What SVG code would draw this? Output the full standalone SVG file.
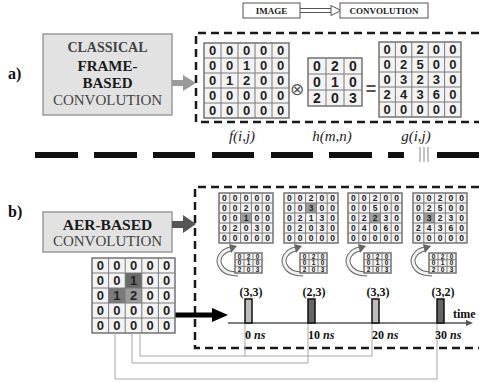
<svg xmlns="http://www.w3.org/2000/svg" width="479" height="383" viewBox="0 0 479 383">
<defs>
<style>
.bg{fill:#fff}
.lbl{font-weight:bold;font-size:16px;fill:#111}
.box{fill:#e2e2e2;stroke:#9a9a9a;stroke-width:1.5}
.dash{fill:none;stroke:#1a1a1a;stroke-width:2.5;stroke-dasharray:8 5}
.mat{fill:#f3f3f3;stroke:#6a6a6a;stroke-width:1.4}
.grid{fill:none;stroke:#7a7a7a;stroke-width:1}
.num{font-family:"Liberation Sans",Arial,sans-serif;font-weight:bold;fill:#222;text-anchor:middle}
.n13{font-size:13px}
.n14{font-size:14px}
.n9{font-size:8.5px}
.n6{font-size:6.5px}
.fn{font-style:italic;font-size:15px;fill:#222;text-anchor:middle}
.conn{fill:none;stroke:#a8a8a8;stroke-width:1}
.ev{font-weight:bold;font-size:12px;fill:#111;text-anchor:middle}
.tm{font-weight:bold;font-size:12px;fill:#111}
.hl{fill:#9c9c9c}
.ring{fill:none;stroke:#666;stroke-width:5}
.ringin{fill:none;stroke:#f0f0f0;stroke-width:3}
.pulse{stroke:#111;stroke-width:1.5}
</style>
</defs>
<rect class="bg" x="0" y="0" width="479" height="383"/>

<g font-family="Liberation Serif, Times New Roman, DejaVu Serif, serif">
<!-- legend -->
<g id="legend">
<rect x="243" y="3" width="57" height="15" fill="#fff" stroke="#555" stroke-width="1"/>
<text x="271.5" y="14" font-size="9" font-weight="bold" text-anchor="middle" fill="#222">IMAGE</text>
<path d="M300,8.5H332 M300,12.5H332" stroke="#555" stroke-width="1" fill="none"/>
<path d="M331,5.5L341,10.5L331,15.5Z" fill="#fff" stroke="#555" stroke-width="1"/>
<rect x="340" y="3" width="88" height="15" fill="#fff" stroke="#555" stroke-width="1"/>
<text x="384" y="14" font-size="9" font-weight="bold" text-anchor="middle" fill="#222">CONVOLUTION</text>
</g>

<!-- section a -->
<text x="8" y="79" class="lbl">a)</text>
<g id="classical">
<rect class="box" x="43" y="34" width="129" height="81"/>
<text x="107.5" y="52" font-size="14" font-weight="bold" fill="#444" text-anchor="middle">CLASSICAL</text>
<text x="107.5" y="71" font-size="15" font-weight="bold" fill="#1a1a1a" text-anchor="middle">FRAME-</text>
<text x="107.5" y="88" font-size="15" font-weight="bold" fill="#1a1a1a" text-anchor="middle">BASED</text>
<text x="107.5" y="105" font-size="15" fill="#444" text-anchor="middle">CONVOLUTION</text>
</g>
<g id="frameBox">
<path class="dash" d="M479,33H196V122H479"/>
</g>

<g id="matF">
<rect class="mat" x="204" y="43" width="85" height="75"/>
<path class="grid" d="M221,43V118M238,43V118M255,43V118M272,43V118M204,58H289M204,73H289M204,88H289M204,103H289"/>
<g class="num n13">
<text x="212.5 229.5 246.5 263.5 280.5" y="55.2">00000</text>
<text x="212.5 229.5 246.5 263.5 280.5" y="70.2">00100</text>
<text x="212.5 229.5 246.5 263.5 280.5" y="85.2">01200</text>
<text x="212.5 229.5 246.5 263.5 280.5" y="100.2">00000</text>
<text x="212.5 229.5 246.5 263.5 280.5" y="115.2">00000</text>
</g>
<text class="fn" x="242" y="141">f(i,j)</text>
</g>

<text x="297" y="95" font-family="DejaVu Sans,sans-serif" font-size="17" fill="#555" text-anchor="middle">⊗</text>

<g id="matH">
<rect class="mat" x="308" y="58" width="54" height="48"/>
<path class="grid" d="M326,58V106M344,58V106M308,74H362M308,90H362"/>
<g class="num n14">
<text x="317 335 353" y="71">020</text>
<text x="317 335 353" y="87">010</text>
<text x="317 335 353" y="103">203</text>
</g>
<text class="fn" x="332" y="141">h(m,n)</text>
</g>

<text x="371" y="95" font-family="Liberation Sans,sans-serif" font-weight="bold" font-size="18" fill="#555" text-anchor="middle">=</text>

<g id="matG">
<rect class="mat" x="379" y="42" width="82" height="75"/>
<path class="grid" d="M395.4,42V117M411.8,42V117M428.2,42V117M444.6,42V117M379,57H461M379,72H461M379,87H461M379,102H461"/>
<g class="num n13">
<text x="387.2 403.6 420 436.4 452.8" y="54.2">00200</text>
<text x="387.2 403.6 420 436.4 452.8" y="69.2">02500</text>
<text x="387.2 403.6 420 436.4 452.8" y="84.2">03230</text>
<text x="387.2 403.6 420 436.4 452.8" y="99.2">24360</text>
<text x="387.2 403.6 420 436.4 452.8" y="114.2">00000</text>
</g>
<text class="fn" x="416" y="141">g(i,j)</text>
</g>

<!-- separator -->
<g id="separator">
<path d="M35,155H78M94,155H137M153,155H195M212,155H254M271,155H313M329,155H372M388,155H404M437,155H479" stroke="#111" stroke-width="6" fill="none"/>
<path d="M420,147V162M424,147V162M428,147V162" stroke="#888" stroke-width="1" fill="none"/>
</g>

<!-- section b -->
<text x="8" y="217" class="lbl">b)</text>
<g id="aer">
<rect class="box" x="43" y="212" width="129" height="40"/>
<text x="107.5" y="230" font-size="15.5" font-weight="bold" fill="#1a1a1a" text-anchor="middle">AER-BASED</text>
<text x="107.5" y="246" font-size="15" fill="#444" text-anchor="middle">CONVOLUTION</text>
</g>
<g id="aerBox">
<path class="dash" d="M479,187H195V348H479"/>
</g>

<!-- arrows -->
<g id="arrows">
<path d="M172,80H183V75L196,83L183,91V86H172Z" fill="#9a9a9a"/>
<path d="M172,221H183V215L196,224L183,233V228H172Z" fill="#555"/>
<path d="M175,312.5H212V308L228,315L212,322V317.5H175Z" fill="#000"/>
</g>

<g id="matIn">
<rect class="mat" x="92" y="258" width="83" height="75"/>
<rect x="125.2" y="273" width="16.6" height="15" fill="#6a6a6a"/>
<rect x="108.6" y="288" width="16.6" height="15" fill="#7a7a7a"/>
<rect x="125.2" y="288" width="16.6" height="15" fill="#9a9a9a"/>
<path class="grid" d="M108.6,258V333M125.2,258V333M141.8,258V333M158.4,258V333M92,273H175M92,288H175M92,303H175M92,318H175"/>
<g class="num n13">
<text x="100.3 116.9 133.5 150.1 166.7" y="270.2">00000</text>
<text x="100.3 116.9 133.5 150.1 166.7" y="285.2">00100</text>
<text x="100.3 116.9 133.5 150.1 166.7" y="300.2">01200</text>
<text x="100.3 116.9 133.5 150.1 166.7" y="315.2">00000</text>
<text x="100.3 116.9 133.5 150.1 166.7" y="330.2">00000</text>
</g>
</g>

<!-- connectors -->
<g id="connectors">
<path class="conn" d="M140,333V356H372V323M245,323V356"/>
<path class="conn" d="M132,333V363H308V323"/>
<path class="conn" d="M115,333V379H437V323"/>
<path d="M228,323H468" stroke="#555" stroke-width="1.5" fill="none"/>
<path d="M466,320L473,323L466,326Z" fill="#555"/>
</g>

<!-- snapshots -->
<g id="snap1" transform="translate(219,193)">
<rect class="mat" x="0" y="0" width="54" height="50"/>
<rect class="hl" x="21.6" y="20" width="10.8" height="10"/>
<path class="grid" d="M10.8,0V50M21.6,0V50M32.4,0V50M43.2,0V50M0,10H54M0,20H54M0,30H54M0,40H54"/>
<g class="num n9">
<text x="5.4 16.2 27 37.8 48.6" y="8.2">00000</text>
<text x="5.4 16.2 27 37.8 48.6" y="18.2">00200</text>
<text x="5.4 16.2 27 37.8 48.6" y="28.2">00100</text>
<text x="5.4 16.2 27 37.8 48.6" y="38.2">02030</text>
<text x="5.4 16.2 27 37.8 48.6" y="48.2">00000</text>
</g>
<path class="ring" d="M12,56 C2,58 -2,66 1,72 C4,79 12,81 19,81"/>
<path class="ringin" d="M12,56 C2,58 -2,66 1,72 C4,79 12,81 19,81"/>
<path d="M10,51L18,53L12,60Z" fill="#666"/>
<g transform="translate(16,60)">
<rect class="mat" x="0" y="0" width="27" height="20" stroke-width="1"/>
<path class="grid" d="M9,0V20M18,0V20M0,6.67H27M0,13.33H27" stroke-width="0.7"/>
<g class="num n6">
<text x="4.5 13.5 22.5" y="5.7">020</text>
<text x="4.5 13.5 22.5" y="12.4">010</text>
<text x="4.5 13.5 22.5" y="19">203</text>
</g>
</g>
</g>

<g id="snap2" transform="translate(284,193)">
<rect class="mat" x="0" y="0" width="54" height="50"/>
<rect class="hl" x="21.6" y="10" width="10.8" height="10"/>
<path class="grid" d="M10.8,0V50M21.6,0V50M32.4,0V50M43.2,0V50M0,10H54M0,20H54M0,30H54M0,40H54"/>
<g class="num n9">
<text x="5.4 16.2 27 37.8 48.6" y="8.2">00200</text>
<text x="5.4 16.2 27 37.8 48.6" y="18.2">00300</text>
<text x="5.4 16.2 27 37.8 48.6" y="28.2">02130</text>
<text x="5.4 16.2 27 37.8 48.6" y="38.2">02030</text>
<text x="5.4 16.2 27 37.8 48.6" y="48.2">00000</text>
</g>
<path class="ring" d="M12,56 C2,58 -2,66 1,72 C4,79 12,81 19,81"/>
<path class="ringin" d="M12,56 C2,58 -2,66 1,72 C4,79 12,81 19,81"/>
<path d="M10,51L18,53L12,60Z" fill="#666"/>
<g transform="translate(16,60)">
<rect class="mat" x="0" y="0" width="27" height="20" stroke-width="1"/>
<path class="grid" d="M9,0V20M18,0V20M0,6.67H27M0,13.33H27" stroke-width="0.7"/>
<g class="num n6">
<text x="4.5 13.5 22.5" y="5.7">020</text>
<text x="4.5 13.5 22.5" y="12.4">010</text>
<text x="4.5 13.5 22.5" y="19">203</text>
</g>
</g>
</g>

<g id="snap3" transform="translate(348,193)">
<rect class="mat" x="0" y="0" width="54" height="50"/>
<rect class="hl" x="21.6" y="20" width="10.8" height="10"/>
<path class="grid" d="M10.8,0V50M21.6,0V50M32.4,0V50M43.2,0V50M0,10H54M0,20H54M0,30H54M0,40H54"/>
<g class="num n9">
<text x="5.4 16.2 27 37.8 48.6" y="8.2">00200</text>
<text x="5.4 16.2 27 37.8 48.6" y="18.2">00500</text>
<text x="5.4 16.2 27 37.8 48.6" y="28.2">02230</text>
<text x="5.4 16.2 27 37.8 48.6" y="38.2">04060</text>
<text x="5.4 16.2 27 37.8 48.6" y="48.2">00000</text>
</g>
<path class="ring" d="M12,56 C2,58 -2,66 1,72 C4,79 12,81 19,81"/>
<path class="ringin" d="M12,56 C2,58 -2,66 1,72 C4,79 12,81 19,81"/>
<path d="M10,51L18,53L12,60Z" fill="#666"/>
<g transform="translate(16,60)">
<rect class="mat" x="0" y="0" width="27" height="20" stroke-width="1"/>
<path class="grid" d="M9,0V20M18,0V20M0,6.67H27M0,13.33H27" stroke-width="0.7"/>
<g class="num n6">
<text x="4.5 13.5 22.5" y="5.7">020</text>
<text x="4.5 13.5 22.5" y="12.4">010</text>
<text x="4.5 13.5 22.5" y="19">203</text>
</g>
</g>
</g>

<g id="snap4" transform="translate(413,193)">
<rect class="mat" x="0" y="0" width="54" height="50"/>
<rect class="hl" x="10.8" y="20" width="10.8" height="10"/>
<path class="grid" d="M10.8,0V50M21.6,0V50M32.4,0V50M43.2,0V50M0,10H54M0,20H54M0,30H54M0,40H54"/>
<g class="num n9">
<text x="5.4 16.2 27 37.8 48.6" y="8.2">00200</text>
<text x="5.4 16.2 27 37.8 48.6" y="18.2">02500</text>
<text x="5.4 16.2 27 37.8 48.6" y="28.2">03230</text>
<text x="5.4 16.2 27 37.8 48.6" y="38.2">24360</text>
<text x="5.4 16.2 27 37.8 48.6" y="48.2">00000</text>
</g>
<path class="ring" d="M12,56 C2,58 -2,66 1,72 C4,79 12,81 19,81"/>
<path class="ringin" d="M12,56 C2,58 -2,66 1,72 C4,79 12,81 19,81"/>
<path d="M10,51L18,53L12,60Z" fill="#666"/>
<g transform="translate(16,60)">
<rect class="mat" x="0" y="0" width="27" height="20" stroke-width="1"/>
<path class="grid" d="M9,0V20M18,0V20M0,6.67H27M0,13.33H27" stroke-width="0.7"/>
<g class="num n6">
<text x="4.5 13.5 22.5" y="5.7">020</text>
<text x="4.5 13.5 22.5" y="12.4">010</text>
<text x="4.5 13.5 22.5" y="19">203</text>
</g>
</g>
</g>

<!-- pulses -->
<g id="pulse1">
<rect class="pulse" x="245" y="299" width="7" height="24" fill="#bdbdbd"/>
<text class="ev" x="251" y="296">(3,3)</text>
<text class="tm" x="245" y="339">0 <tspan font-style="italic">ns</tspan></text>
</g>
<g id="pulse2">
<rect class="pulse" x="308" y="299" width="7" height="24" fill="#666"/>
<text class="ev" x="314" y="296">(2,3)</text>
<text class="tm" x="308" y="339">10 <tspan font-style="italic">ns</tspan></text>
</g>
<g id="pulse3">
<rect class="pulse" x="372" y="299" width="7" height="24" fill="#bdbdbd"/>
<text class="ev" x="378" y="296">(3,3)</text>
<text class="tm" x="372" y="339">20 <tspan font-style="italic">ns</tspan></text>
</g>
<g id="pulse4">
<rect class="pulse" x="437" y="299" width="7" height="24" fill="#666"/>
<text class="ev" x="443" y="296">(3,2)</text>
<text class="tm" x="435" y="339">30 <tspan font-style="italic">ns</tspan></text>
</g>
<text class="tm" x="453" y="318">time</text>
</g>
</svg>
